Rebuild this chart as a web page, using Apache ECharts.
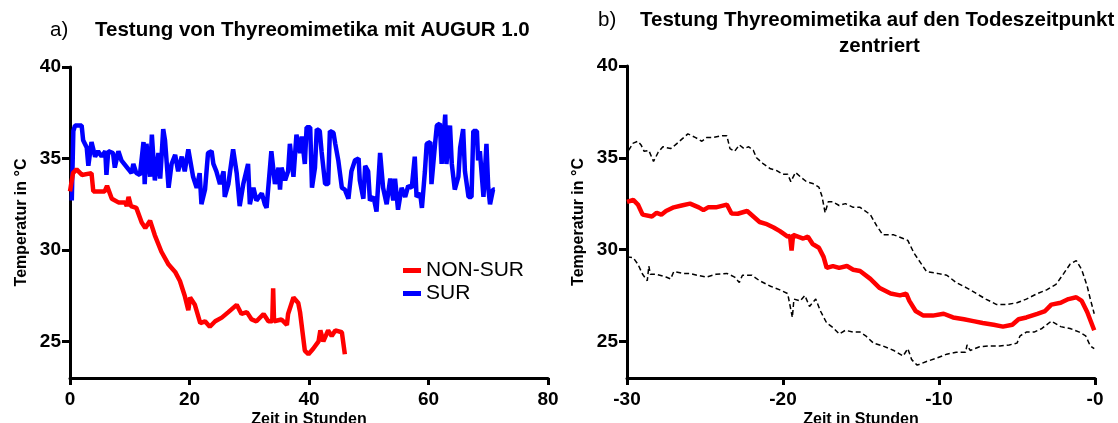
<!DOCTYPE html>
<html>
<head>
<meta charset="utf-8">
<script src="https://cdn.jsdelivr.net/npm/echarts@6/dist/echarts.min.js"></script>
<style>
html,body{margin:0;padding:0;background:#fff;}
#c{width:1118px;height:423px;}
</style>
</head>
<body>
<div id="c"></div>
<script>
// ---------- Panel a) ----------
const surT = [0.3,0.56,0.84,1.95,2.2,2.8,3.07,3.6,4.2,4.7,5.3,5.9,6.1,6.4,7.2,7.5,8.1,8.6,9.8,10.3,10.6,11.1,11.7,12.3,12.5,12.8,13.4,13.7,14.2,14.8,15.1,15.6,15.9,16.5,17.0,17.6,18.1,18.7,19.2,19.8,20.1,20.6,21.2,21.7,22.0,22.6,23.1,23.7,24.0,24.5,25.1,25.7,25.9,26.5,27.3,27.9,28.4,29.0,29.8,30.1,30.7,31.2,32.1,32.6,32.9,33.7,34.3,34.9,35.15,35.4,36.0,36.5,36.8,37.4,37.9,38.5,38.8,39.3,39.6,40.2,40.5,41.0,41.3,41.8,42.1,42.7,43.2,43.5,44.1,44.4,44.9,45.5,46.0,46.6,47.1,47.7,48.3,48.5,49.1,49.4,49.9,50.2,50.8,51.3,51.9,52.4,53.0,53.6,54.1,54.4,54.9,55.5,56.1,56.6,57.2,57.7,58.0,58.6,58.9,59.4,59.7,60.3,60.5,61.1,61.4,61.9,62.2,62.8,63.0,63.6,63.9,64.4,65.0,65.3,65.8,66.1,66.7,67.2,67.5,68.1,68.3,68.6,69.2,69.7,70.0,70.3,70.8,71.1];
const surV = [32.7,36.5,36.8,36.8,36.0,35.6,34.6,35.9,35.1,35.4,35.1,35.4,34.1,35.4,35.3,34.5,35.4,34.9,34.4,34.2,34.7,34.2,34.1,35.9,33.6,35.8,34.0,36.3,33.8,35.3,33.9,36.6,36.0,33.4,34.7,35.2,34.3,35.1,34.3,35.5,35.6,34.0,33.4,34.2,32.5,33.3,35.3,35.4,34.7,34.3,33.6,34.3,32.9,33.6,35.5,34.2,32.4,33.6,34.7,32.5,33.4,32.7,33.1,32.5,32.3,35.4,33.6,34.5,33.3,34.5,33.8,34.3,35.8,34.0,36.3,35.3,36.2,34.7,36.7,36.7,33.4,34.5,36.6,36.5,35.4,33.6,33.6,36.5,36.4,35.8,34.9,33.4,33.3,32.8,34.3,34.9,35.0,33.8,32.8,34.6,34.3,32.7,32.9,32.1,35.3,33.4,32.5,33.9,32.7,33.9,32.2,33.4,32.9,33.5,33.4,35.1,32.9,33.1,32.3,34.3,35.8,35.9,33.6,35.8,36.8,36.9,34.7,37.4,34.7,36.8,34.7,33.3,34.0,35.6,36.6,34.3,32.9,32.9,36.5,36.5,34.9,35.4,32.9,35.8,33.4,32.5,33.3,33.3];

const nonSurT = [0,0.5,1.1,2.0,3.6,3.9,5.0,5.8,6.2,7.0,8.1,9.2,9.5,9.8,10.2,11.1,12.0,12.6,13.4,14.2,15.3,16.5,17.6,18.4,19.2,19.8,20.1,20.9,21.8,22.6,23.4,24.3,25.4,26.5,27.9,28.7,29.6,30.4,31.2,32.4,33.2,33.85,34.0,34.15,35.4,36.3,36.5,37.4,38.2,38.5,39.3,39.9,40.7,41.6,41.9,42.4,43.2,43.8,44.4,45.5,46.0];
const nonSurV = [33.2,34.2,34.4,34.1,34.2,33.2,33.2,33.2,33.5,32.8,32.6,32.6,32.4,32.9,32.4,32.3,31.5,31.2,31.6,30.8,29.9,29.2,28.8,28.3,27.5,26.7,27.4,27.0,26.0,26.1,25.8,26.1,26.3,26.6,27.0,26.5,26.6,26.2,26.1,26.5,26.1,26.1,27.9,26.1,26.2,25.9,26.5,27.4,27.1,26.6,24.5,24.3,24.6,25.0,25.6,25.0,25.6,25.3,25.6,25.5,24.3];

// ---------- Panel b) ----------
const meanT = [-30,-29.6,-29.3,-29.0,-28.4,-28.1,-27.8,-27.5,-27.0,-26.5,-25.96,-25.4,-25.1,-24.8,-24.3,-23.6,-23.3,-22.9,-22.3,-21.9,-21.5,-21.1,-20.6,-20.2,-19.7,-19.55,-19.45,-19.35,-18.7,-18.4,-18.1,-17.7,-17.4,-17.2,-16.8,-16.4,-15.9,-15.5,-15.06,-14.4,-13.8,-13.1,-12.5,-12.1,-11.9,-11.5,-11.0,-10.4,-9.7,-9.1,-8.4,-7.8,-7.2,-6.5,-5.9,-5.3,-4.9,-4.4,-3.7,-3.2,-2.8,-2.2,-1.7,-1.2,-0.85,-0.5,-0.05];
const meanV = [32.6,32.7,32.45,31.9,31.8,32.0,31.9,32.1,32.3,32.4,32.5,32.3,32.15,32.3,32.3,32.45,31.96,31.95,32.1,31.8,31.5,31.4,31.2,31.0,30.7,30.75,29.95,30.8,30.6,30.7,30.3,30.1,29.6,29.0,29.1,29.0,29.1,28.9,28.83,28.4,27.9,27.6,27.5,27.6,27.2,26.65,26.4,26.4,26.5,26.3,26.2,26.1,26.0,25.9,25.8,25.9,26.2,26.3,26.5,26.65,27.0,27.1,27.3,27.4,27.2,26.6,25.6];

const upperT = [-29.9,-29.6,-29.3,-29.1,-28.9,-28.6,-28.3,-28.0,-27.7,-27.2,-26.9,-26.5,-26.1,-25.6,-25.2,-24.9,-24.5,-23.9,-23.6,-23.4,-23.1,-22.8,-22.5,-22.2,-21.9,-21.7,-21.3,-20.8,-20.4,-20.0,-19.7,-19.5,-19.2,-18.8,-18.5,-18.1,-17.7,-17.5,-17.3,-17.1,-16.8,-16.4,-16.0,-15.5,-15.06,-14.4,-14.0,-13.6,-12.9,-12.3,-12.0,-11.6,-11.2,-10.8,-10.1,-9.5,-8.9,-8.2,-7.6,-7.0,-6.3,-5.7,-5.0,-4.4,-3.7,-3.1,-2.5,-2.0,-1.6,-1.2,-0.85,-0.5,-0.3,-0.05];
const upperV = [35.4,35.8,35.9,35.7,35.35,35.4,34.8,35.3,35.6,35.5,35.7,36.0,36.3,36.1,35.9,36.1,36.1,36.2,36.2,35.5,35.35,35.7,35.5,35.6,35.4,35.0,34.7,34.4,34.3,34.1,34.1,33.7,34.2,33.9,33.7,33.6,33.4,32.9,32.0,32.6,32.6,32.4,32.5,32.3,32.3,31.9,31.3,30.8,30.8,30.6,30.5,29.8,29.3,28.8,28.7,28.6,28.2,27.9,27.6,27.3,27.0,27.0,27.1,27.3,27.6,27.8,28.1,28.7,29.2,29.4,28.9,28.0,27.3,26.5];

const lowerT = [-30,-29.6,-29.3,-29.0,-28.7,-28.6,-28.5,-28.1,-27.5,-27.2,-27.0,-26.4,-26.0,-25.5,-24.9,-24.3,-23.6,-23.1,-22.8,-22.6,-22.0,-21.5,-20.8,-20.2,-19.7,-19.4,-19.3,-18.9,-18.6,-18.3,-17.9,-17.6,-17.2,-16.8,-16.4,-16.0,-15.5,-15.06,-14.7,-14.2,-13.6,-12.9,-12.3,-12.0,-11.75,-11.4,-10.8,-10.1,-9.5,-8.9,-8.3,-8.2,-8.0,-7.4,-6.7,-6.1,-5.5,-5.0,-4.8,-4.4,-3.9,-3.4,-2.8,-2.2,-1.6,-1.0,-0.6,-0.3,-0.05];
const lowerV = [29.6,29.55,29.2,28.65,28.3,29.1,28.65,28.65,28.5,28.4,28.8,28.7,28.7,28.6,28.5,28.65,28.7,28.5,28.2,28.6,28.6,28.3,28.0,27.8,27.6,26.3,27.3,27.2,27.5,26.9,27.3,26.65,26.0,25.75,25.4,25.6,25.5,25.5,25.3,24.9,24.75,24.5,24.2,24.6,24.0,23.7,23.9,24.1,24.3,24.4,24.4,24.8,24.5,24.7,24.75,24.75,24.8,24.9,25.3,25.5,25.5,25.7,26.1,25.8,25.7,25.5,25.3,24.75,24.6];

const yTicks = [25, 30, 35, 40];
const xTicksA = [0, 20, 40, 60, 80];
const xTicksB = [-30, -20, -10, 0];

const zip = (a, b) => a.map((v, i) => [v, b[i]]);
const FONT = "'Liberation Sans', Arial, sans-serif";
const black = '#000';

function yAxis(gi) {
  return {
    type: 'value', gridIndex: gi, min: 23, max: 40,
    name: 'Temperatur in °C', nameLocation: 'middle', nameGap: 40,
    nameTextStyle: {fontFamily: FONT, fontWeight: 'bold', fontSize: 16, color: black},
    axisLine: {show: true, onZero: false, lineStyle: {color: black, width: 3}},
    axisTick: {show: true, length: 8, lineStyle: {color: black, width: 3}, customValues: yTicks},
    axisLabel: {customValues: yTicks, fontFamily: FONT, fontWeight: 'bold', fontSize: 19, color: black, margin: 9},
    splitLine: {show: false}
  };
}
function xAxis(gi, min, max, interval, ticks, fmt) {
  return {
    type: 'value', gridIndex: gi, min: min, max: max, interval: interval,
    name: 'Zeit in Stunden', nameLocation: 'middle', nameGap: 34, nameMoveOverlap: false,
    nameTextStyle: {fontFamily: FONT, fontWeight: 'bold', fontSize: 16, color: black},
    axisLine: {show: true, onZero: false, lineStyle: {color: black, width: 3}},
    axisTick: {show: true, length: 7, lineStyle: {color: black, width: 3}, customValues: ticks},
    axisLabel: {customValues: ticks, fontFamily: FONT, fontWeight: 'bold', fontSize: 19, color: black, margin: 12, formatter: fmt},
    splitLine: {show: false}
  };
}

const chart = echarts.init(document.getElementById('c'), null, {renderer: 'canvas'});
chart.setOption({
  backgroundColor: '#fff',
  animation: false,
  title: [
    {text: 'a)', left: 50, top: 20, padding: 0, textStyle: {fontFamily: FONT, fontWeight: 'normal', fontSize: 20.5, color: black}},
    {text: 'Testung von Thyreomimetika mit AUGUR 1.0', left: 95, top: 20, padding: 0, textStyle: {fontFamily: FONT, fontWeight: 'bold', fontSize: 20.5, color: black}},
    {text: 'b)', left: 598, top: 10, padding: 0, textStyle: {fontFamily: FONT, fontWeight: 'normal', fontSize: 20.5, color: black}},
    {text: 'Testung Thyreomimetika auf den Todeszeitpunkt', left: 640, top: 10, padding: 0, textStyle: {fontFamily: FONT, fontWeight: 'bold', fontSize: 20.5, color: black}},
    {text: 'zentriert', left: 839, top: 36, padding: 0, textStyle: {fontFamily: FONT, fontWeight: 'bold', fontSize: 20.5, color: black}}
  ],
  legend: {
    data: ['NON-SUR', 'SUR'], orient: 'vertical', left: 403, top: 260, padding: 0,
    icon: 'rect', itemWidth: 18, itemHeight: 5, itemGap: 2,
    textStyle: {fontFamily: FONT, fontSize: 21, color: black, padding: [0, 0, 0, 0]}
  },
  grid: [
    {left: 70, top: 67, width: 478, height: 311, containLabel: false, outerBoundsMode: 'none'},
    {left: 627, top: 66, width: 468, height: 312, containLabel: false, outerBoundsMode: 'none'}
  ],
  xAxis: [
    xAxis(0, 0, 80, 20, xTicksA, v => String(v)),
    xAxis(1, -30, 0, 10, xTicksB, v => (v === 0 ? '-0' : String(v)))
  ],
  yAxis: [yAxis(0), yAxis(1)],
  series: [
    {name: 'SUR', type: 'line', xAxisIndex: 0, yAxisIndex: 0, data: zip(surT, surV), showSymbol: false, symbol: 'none',
     color: '#0000ff', lineStyle: {color: '#0000ff', width: 4.5}},
    {name: 'NON-SUR', type: 'line', xAxisIndex: 0, yAxisIndex: 0, data: zip(nonSurT, nonSurV), showSymbol: false, symbol: 'none',
     color: '#ff0000', lineStyle: {color: '#ff0000', width: 4.5}},
    {name: 'upper', type: 'line', xAxisIndex: 1, yAxisIndex: 1, data: zip(upperT, upperV), showSymbol: false, symbol: 'none',
     lineStyle: {color: black, width: 1.5, type: [5, 3]}},
    {name: 'lower', type: 'line', xAxisIndex: 1, yAxisIndex: 1, data: zip(lowerT, lowerV), showSymbol: false, symbol: 'none',
     lineStyle: {color: black, width: 1.5, type: [5, 3]}},
    {name: 'mean', type: 'line', xAxisIndex: 1, yAxisIndex: 1, data: zip(meanT, meanV), showSymbol: false, symbol: 'none',
     color: '#ff0000', lineStyle: {color: '#ff0000', width: 4.5}}
  ]
});
</script>
</body>
</html>
